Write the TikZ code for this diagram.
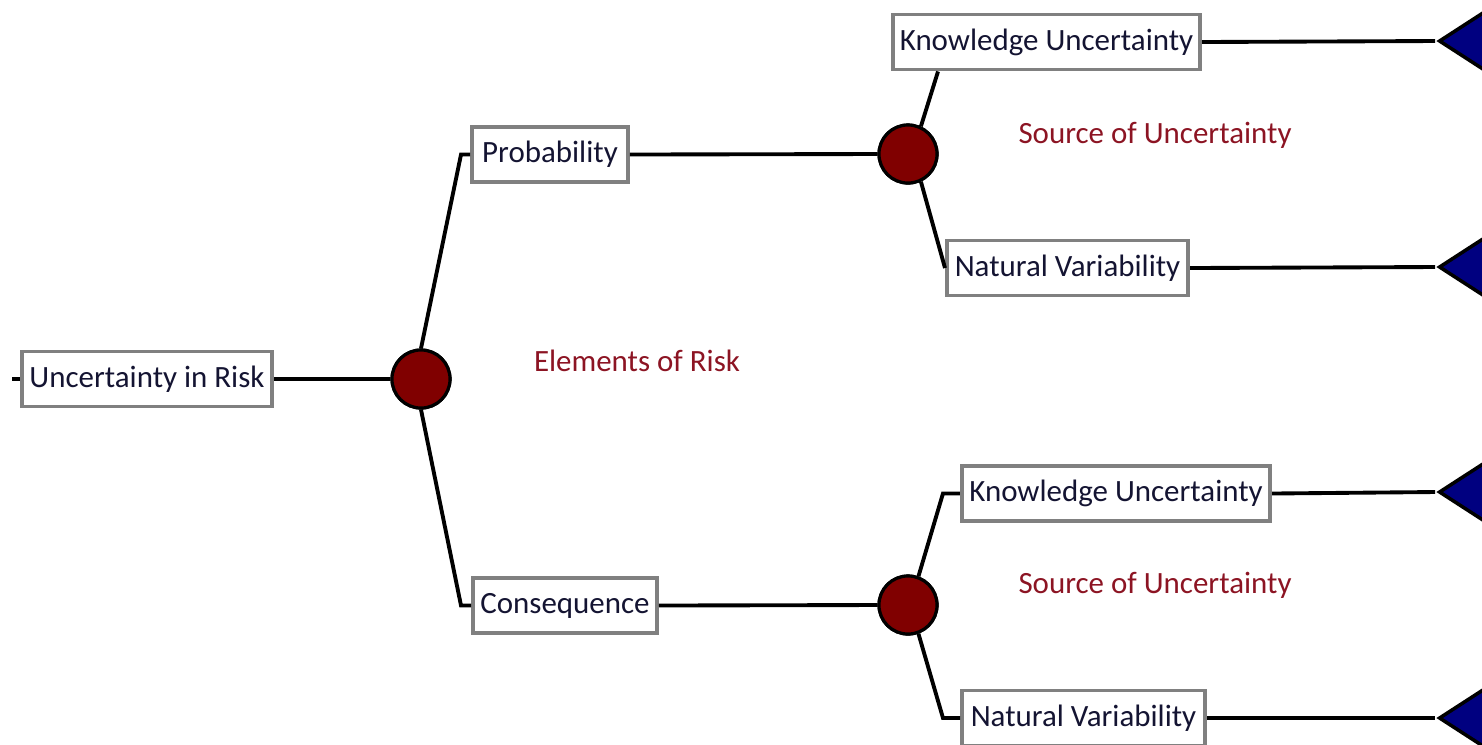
\documentclass[tikz,border=0pt]{standalone}
\usepackage{fontspec}
\setmainfont{Carlito}
\usetikzlibrary{shapes.geometric}
\definecolor{boxgray}{RGB}{128,128,128}
\definecolor{chancered}{RGB}{128,0,0}
\definecolor{endblue}{RGB}{0,0,128}
\definecolor{labelred}{RGB}{140,20,35}
\definecolor{boxtext}{RGB}{20,20,50}
\tikzset{
  decbox/.style={draw=boxgray, line width=1.1pt, fill=white, text=boxtext,
    minimum height=0.55cm, inner sep=0pt, font=\fontsize{8.8}{10}\selectfont},
  chance/.style={circle, draw=black, line width=0.9pt, fill=chancered,
    minimum size=0.58cm, inner sep=0pt},
  endnode/.style={isosceles triangle, shape border rotate=180, isosceles triangle stretches,
    draw=black, line width=1pt, fill=endblue, minimum width=0.97cm, minimum height=0.75cm,
    inner sep=0pt, anchor=apex},
  branchlabel/.style={text=labelred, font=\fontsize{8.8}{10}\selectfont}
}
\begin{document}
\begin{tikzpicture}[x=0.01cm, y=-0.01cm]
\useasboundingbox (0,0) rectangle (1482,744);

% boxes
\node[decbox, minimum width=2.50cm] (ur) at (147,379) {Uncertainty in Risk};
\node[decbox, minimum width=1.56cm] (prob) at (550,154.5) {Probability};
\node[decbox, minimum width=1.84cm] (con) at (565,605.5) {Consequence};
\node[decbox, minimum width=3.07cm] (ku1) at (1046.5,42) {Knowledge Uncertainty};
\node[decbox, minimum width=2.41cm] (nv1) at (1067.5,268) {Natural Variability};
\node[decbox, minimum width=3.08cm] (ku2) at (1116,493.5) {Knowledge Uncertainty};
\node[decbox, minimum width=2.43cm] (nv2) at (1083.5,718) {Natural Variability};

% chance nodes
\node[chance] (c1) at (421,379) {};
\node[chance] (c2) at (908,154) {};
\node[chance] (c3) at (908,605) {};

% end nodes
\node[endnode] (t1) at (1435,41) {};
\node[endnode] (t2) at (1435,267) {};
\node[endnode] (t3) at (1435,492) {};
\node[endnode] (t4) at (1435,718) {};

\node[branchlabel] (er) at (637,361) {Elements of Risk};
\node[branchlabel] (su1) at (1155,135) {Source of Uncertainty};
\node[branchlabel] (su2) at (1155,585) {Source of Uncertainty};

\coordinate (start) at (12,379);

\begin{scope}[line width=1.1pt]
\draw (start) -- (ur.west);
\draw (ur.east) -- (c1.west);
\draw (c1.north) -- ([xshift=-0.09cm]prob.west) -- (prob.west);
\draw (c1.south) -- ([xshift=-0.10cm]con.west) -- (con.west);
\draw (prob.east) -- (c2.west);
\draw (con.east) -- (c3.west);
\draw (c2.65) -- ([xshift=0.47cm]ku1.south west);
\draw (c2.-65) -- (nv1.west);
\draw (c3.70) -- ([xshift=-0.17cm]ku2.west) -- (ku2.west);
\draw (c3.-70) -- ([xshift=-0.17cm]nv2.west) -- (nv2.west);
\draw (ku1.east) -- (t1.apex);
\draw (nv1.east) -- (t2.apex);
\draw (ku2.east) -- (t3.apex);
\draw (nv2.east) -- (t4.apex);
\end{scope}

% redraw nodes on top of connectors
\node[chance] at (c1) {};
\node[chance] at (c2) {};
\node[chance] at (c3) {};

\end{tikzpicture}
\end{document}
